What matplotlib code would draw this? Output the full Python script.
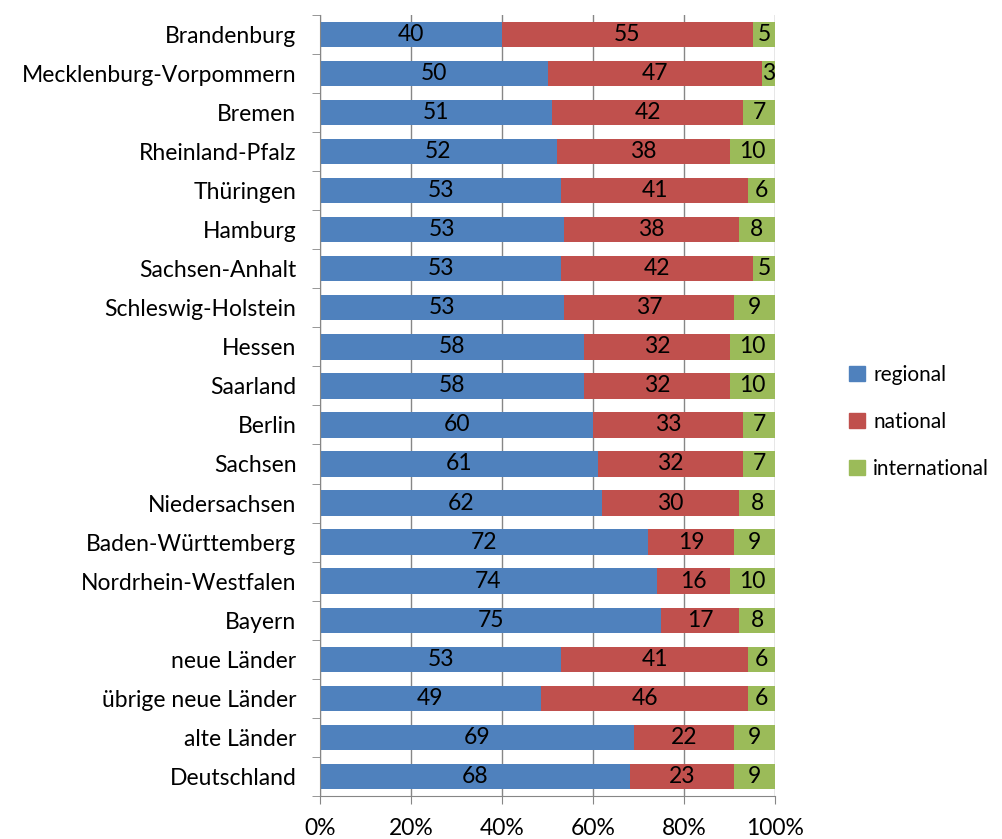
import numpy as np
import matplotlib
matplotlib.use('Agg')
import matplotlib.pyplot as plt
from matplotlib.patches import Patch

plt.rcParams['font.family'] = ['Lato', 'DejaVu Sans']

states = ['Brandenburg', 'Mecklenburg-Vorpommern', 'Bremen', 'Rheinland-Pfalz',
          'Thüringen', 'Hamburg', 'Sachsen-Anhalt', 'Schleswig-Holstein', 'Hessen',
          'Saarland', 'Berlin', 'Sachsen', 'Niedersachsen', 'Baden-Württemberg',
          'Nordrhein-Westfalen', 'Bayern', 'neue Länder', 'übrige neue Länder',
          'alte Länder', 'Deutschland']
regional = [40, 50, 51, 52, 53, 53, 53, 53, 58, 58, 60, 61, 62, 72, 74, 75, 53, 49, 69, 68]
national = [55, 47, 42, 38, 41, 38, 42, 37, 32, 32, 33, 32, 30, 19, 16, 17, 41, 46, 22, 23]
international = [5, 3, 7, 10, 6, 8, 5, 9, 10, 10, 7, 7, 8, 9, 10, 8, 6, 6, 9, 9]

series = [('regional', regional, '#4F81BD'),
          ('national', national, '#C0504D'),
          ('international', international, '#9BBB59')]

vals = np.array([regional, national, international], dtype=float)
shares = vals / vals.sum(axis=0) * 100

fig = plt.figure(figsize=(10.03, 8.39), dpi=100)
ax = fig.add_axes([0.319, 0.0513, 0.454, 0.931])

fs = 16.5
y = np.arange(len(states))
left = np.zeros(len(states))
for i, (name, raw, col) in enumerate(series):
    ax.barh(y, shares[i], left=left, height=0.65, color=col, zorder=2)
    for j in range(len(states)):
        ax.text(left[j] + shares[i][j] / 2, y[j], str(raw[j]), ha='center', va='center',
                fontsize=fs, color='black', zorder=3)
    left += shares[i]

ax.set_ylim(len(states) - 0.5, -0.5)
ax.set_xlim(0, 100)
ax.set_yticks(y)
ax.set_yticklabels(states, fontsize=fs)
ax.set_yticks(np.arange(len(states) + 1) - 0.5, minor=True)
ax.tick_params(axis='y', which='major', length=0, pad=17)
ax.tick_params(axis='y', which='minor', length=6, color='#868686')
ax.set_xticks(range(0, 101, 20))
ax.set_xticklabels([f'{v}%' for v in range(0, 101, 20)], fontsize=fs)
ax.tick_params(axis='x', length=6, color='#868686', pad=10)
ax.grid(axis='x', color='#868686', linewidth=1, zorder=0)
for s in ['top', 'right']:
    ax.spines[s].set_visible(False)
for s in ['left', 'bottom']:
    ax.spines[s].set_color('#868686')

handles = [Patch(color=c, label=n) for n, _, c in series]
fig.legend(handles=handles, loc='center left', bbox_to_anchor=(0.828, 0.497),
           frameon=False, fontsize=15, labelspacing=1.3, handlelength=0.75,
           handleheight=0.75, handletextpad=0.4)

fig.savefig('out.png', dpi=100)
